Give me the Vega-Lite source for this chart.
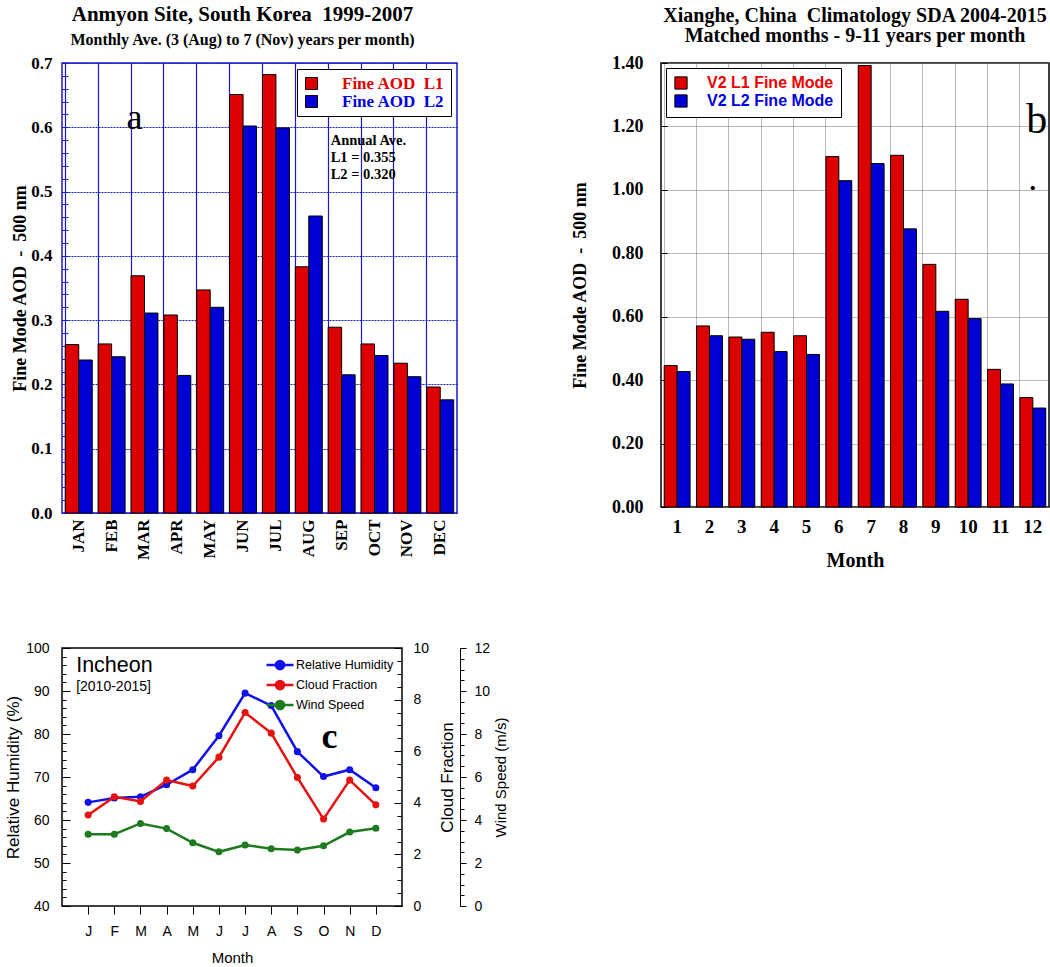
{
  "$schema": "https://vega.github.io/schema/vega-lite/v6.json",
  "background": "white",
  "padding": {"left": 3, "top": 3, "right": 3, "bottom": 3},
  "datasets": {
    "aod_a": [
      {"month": "JAN", "level": "Fine AOD\u00a0\u00a0L1", "aod": 0.262}, {"month": "JAN", "level": "Fine AOD\u00a0\u00a0L2", "aod": 0.238},
      {"month": "FEB", "level": "Fine AOD\u00a0\u00a0L1", "aod": 0.263}, {"month": "FEB", "level": "Fine AOD\u00a0\u00a0L2", "aod": 0.243},
      {"month": "MAR", "level": "Fine AOD\u00a0\u00a0L1", "aod": 0.369}, {"month": "MAR", "level": "Fine AOD\u00a0\u00a0L2", "aod": 0.311},
      {"month": "APR", "level": "Fine AOD\u00a0\u00a0L1", "aod": 0.308}, {"month": "APR", "level": "Fine AOD\u00a0\u00a0L2", "aod": 0.214},
      {"month": "MAY", "level": "Fine AOD\u00a0\u00a0L1", "aod": 0.347}, {"month": "MAY", "level": "Fine AOD\u00a0\u00a0L2", "aod": 0.320},
      {"month": "JUN", "level": "Fine AOD\u00a0\u00a0L1", "aod": 0.651}, {"month": "JUN", "level": "Fine AOD\u00a0\u00a0L2", "aod": 0.602},
      {"month": "JUL", "level": "Fine AOD\u00a0\u00a0L1", "aod": 0.682}, {"month": "JUL", "level": "Fine AOD\u00a0\u00a0L2", "aod": 0.599},
      {"month": "AUG", "level": "Fine AOD\u00a0\u00a0L1", "aod": 0.383}, {"month": "AUG", "level": "Fine AOD\u00a0\u00a0L2", "aod": 0.462},
      {"month": "SEP", "level": "Fine AOD\u00a0\u00a0L1", "aod": 0.289}, {"month": "SEP", "level": "Fine AOD\u00a0\u00a0L2", "aod": 0.215},
      {"month": "OCT", "level": "Fine AOD\u00a0\u00a0L1", "aod": 0.263}, {"month": "OCT", "level": "Fine AOD\u00a0\u00a0L2", "aod": 0.245},
      {"month": "NOV", "level": "Fine AOD\u00a0\u00a0L1", "aod": 0.233}, {"month": "NOV", "level": "Fine AOD\u00a0\u00a0L2", "aod": 0.212},
      {"month": "DEC", "level": "Fine AOD\u00a0\u00a0L1", "aod": 0.196}, {"month": "DEC", "level": "Fine AOD\u00a0\u00a0L2", "aod": 0.176}
    ],
    "aod_b": [
      {"month": "1", "mode": "V2 L1 Fine Mode", "aod": 0.446}, {"month": "1", "mode": "V2 L2 Fine Mode", "aod": 0.427},
      {"month": "2", "mode": "V2 L1 Fine Mode", "aod": 0.571}, {"month": "2", "mode": "V2 L2 Fine Mode", "aod": 0.540},
      {"month": "3", "mode": "V2 L1 Fine Mode", "aod": 0.536}, {"month": "3", "mode": "V2 L2 Fine Mode", "aod": 0.529},
      {"month": "4", "mode": "V2 L1 Fine Mode", "aod": 0.551}, {"month": "4", "mode": "V2 L2 Fine Mode", "aod": 0.490},
      {"month": "5", "mode": "V2 L1 Fine Mode", "aod": 0.540}, {"month": "5", "mode": "V2 L2 Fine Mode", "aod": 0.481},
      {"month": "6", "mode": "V2 L1 Fine Mode", "aod": 1.105}, {"month": "6", "mode": "V2 L2 Fine Mode", "aod": 1.029},
      {"month": "7", "mode": "V2 L1 Fine Mode", "aod": 1.392}, {"month": "7", "mode": "V2 L2 Fine Mode", "aod": 1.083},
      {"month": "8", "mode": "V2 L1 Fine Mode", "aod": 1.109}, {"month": "8", "mode": "V2 L2 Fine Mode", "aod": 0.877},
      {"month": "9", "mode": "V2 L1 Fine Mode", "aod": 0.765}, {"month": "9", "mode": "V2 L2 Fine Mode", "aod": 0.617},
      {"month": "10", "mode": "V2 L1 Fine Mode", "aod": 0.655}, {"month": "10", "mode": "V2 L2 Fine Mode", "aod": 0.594},
      {"month": "11", "mode": "V2 L1 Fine Mode", "aod": 0.434}, {"month": "11", "mode": "V2 L2 Fine Mode", "aod": 0.388},
      {"month": "12", "mode": "V2 L1 Fine Mode", "aod": 0.345}, {"month": "12", "mode": "V2 L2 Fine Mode", "aod": 0.312}
    ],
    "met": [
      {"month": 1, "series": "Relative Humidity", "value": 64.1}, {"month": 2, "series": "Relative Humidity", "value": 65.1},
      {"month": 3, "series": "Relative Humidity", "value": 65.4}, {"month": 4, "series": "Relative Humidity", "value": 68.2},
      {"month": 5, "series": "Relative Humidity", "value": 71.7}, {"month": 6, "series": "Relative Humidity", "value": 79.6},
      {"month": 7, "series": "Relative Humidity", "value": 89.5}, {"month": 8, "series": "Relative Humidity", "value": 86.6},
      {"month": 9, "series": "Relative Humidity", "value": 75.9}, {"month": 10, "series": "Relative Humidity", "value": 70.1},
      {"month": 11, "series": "Relative Humidity", "value": 71.7}, {"month": 12, "series": "Relative Humidity", "value": 67.5},
      {"month": 1, "series": "Cloud Fraction", "value": 3.53}, {"month": 2, "series": "Cloud Fraction", "value": 4.23},
      {"month": 3, "series": "Cloud Fraction", "value": 4.05}, {"month": 4, "series": "Cloud Fraction", "value": 4.88},
      {"month": 5, "series": "Cloud Fraction", "value": 4.65}, {"month": 6, "series": "Cloud Fraction", "value": 5.77},
      {"month": 7, "series": "Cloud Fraction", "value": 7.5}, {"month": 8, "series": "Cloud Fraction", "value": 6.7},
      {"month": 9, "series": "Cloud Fraction", "value": 4.98}, {"month": 10, "series": "Cloud Fraction", "value": 3.37},
      {"month": 11, "series": "Cloud Fraction", "value": 4.88}, {"month": 12, "series": "Cloud Fraction", "value": 3.92},
      {"month": 1, "series": "Wind Speed", "value": 3.34}, {"month": 2, "series": "Wind Speed", "value": 3.34},
      {"month": 3, "series": "Wind Speed", "value": 3.84}, {"month": 4, "series": "Wind Speed", "value": 3.6},
      {"month": 5, "series": "Wind Speed", "value": 2.94}, {"month": 6, "series": "Wind Speed", "value": 2.52},
      {"month": 7, "series": "Wind Speed", "value": 2.84}, {"month": 8, "series": "Wind Speed", "value": 2.66},
      {"month": 9, "series": "Wind Speed", "value": 2.6}, {"month": 10, "series": "Wind Speed", "value": 2.8},
      {"month": 11, "series": "Wind Speed", "value": 3.44}, {"month": 12, "series": "Wind Speed", "value": 3.62}
    ]
  },
  "spacing": 69,
  "resolve": {"scale": {"color": "independent"}, "legend": {"color": "independent"}},
  "vconcat": [
    {
      "spacing": 112,
      "resolve": {"scale": {"color": "independent"}, "legend": {"color": "independent"}},
      "hconcat": [
        {
          "width": 395,
          "height": 450,
          "view": {"stroke": "#1a1acc", "strokeWidth": 1.5},
          "title": {
            "text": "Anmyon Site, South Korea\u00a0\u00a01999-2007",
            "subtitle": "Monthly Ave. (3 (Aug) to 7 (Nov) years per month)",
            "font": "Liberation Serif", "fontSize": 21, "fontWeight": "bold", "color": "black",
            "subtitleFont": "Liberation Serif", "subtitleFontSize": 16, "subtitleFontWeight": "bold", "subtitleColor": "black",
            "subtitlePadding": 7, "offset": 6, "anchor": "middle", "dx": -17
          },
          "layer": [
            {
              "data": {"name": "aod_a"},
              "transform": [{"filter": "indexof(datum.level, 'L1') >= 0"}],
              "mark": {"type": "bar", "stroke": "black", "strokeWidth": 1, "width": {"band": 0.5}, "xOffset": -6.74},
              "encoding": {
                "x": {
                  "field": "month", "type": "nominal",
                  "sort": ["JAN", "FEB", "MAR", "APR", "MAY", "JUN", "JUL", "AUG", "SEP", "OCT", "NOV", "DEC"],
                  "scale": {"paddingInner": 0.18, "paddingOuter": 0.1},
                  "axis": {
                    "title": null, "labelAngle": -90, "labelFont": "Liberation Serif", "labelFontSize": 17,
                    "labelFontWeight": "bold", "labelColor": "black", "labelPadding": 6,
                    "grid": true, "bandPosition": 0, "gridColor": "#1a1acc", "gridWidth": 1.2,
                    "ticks": false, "domain": false
                  }
                },
                "y": {
                  "field": "aod", "type": "quantitative",
                  "scale": {"domain": [0, 0.7], "nice": false},
                  "axis": {
                    "title": "Fine Mode AOD\u00a0\u00a0-\u00a0\u00a0500 nm",
                    "titleFont": "Liberation Serif", "titleFontSize": 18, "titleFontWeight": "bold", "titleColor": "black", "titlePadding": 1,
                    "values": [0, 0.02, 0.04, 0.06, 0.08, 0.1, 0.12, 0.14, 0.16, 0.18, 0.2, 0.22, 0.24, 0.26, 0.28, 0.3, 0.32, 0.34, 0.36, 0.38, 0.4, 0.42, 0.44, 0.46, 0.48, 0.5, 0.52, 0.54, 0.56, 0.58, 0.6, 0.62, 0.64, 0.66, 0.68, 0.7],
                    "tickCount": 200,
                    "labelExpr": "abs(datum.value*10 - round(datum.value*10)) < 0.001 ? format(datum.value, '.1f') : ''",
                    "labelFont": "Liberation Serif", "labelFontSize": 17, "labelFontWeight": "bold", "labelColor": "black",
                    "labelOverlap": false, "labelFlush": false, "labelPadding": 16,
                    "tickColor": "#1a1acc", "tickSize": -6, "domain": false,
                    "grid": true, "gridColor": "#1a1acc", "gridDash": [2, 1], "gridWidth": 1.2,
                    "gridOpacity": {"condition": {"test": "abs(datum.value*10 - round(datum.value*10)) < 0.001", "value": 1}, "value": 0}
                  }
                },
                "color": {
                  "field": "level", "type": "nominal",
                  "scale": {"domain": ["Fine AOD\u00a0\u00a0L1", "Fine AOD\u00a0\u00a0L2"], "range": ["#dd0000", "#0000d6"]},
                  "legend": {
                    "title": null, "orient": "top-right", "offset": 6, "padding": 6,
                    "fillColor": "white", "strokeColor": "black",
                    "symbolType": "square", "symbolSize": 144, "symbolStrokeColor": "black", "symbolStrokeWidth": 1,
                    "labelFont": "Liberation Serif", "labelFontSize": 17, "labelFontWeight": "bold", "labelOffset": 22,
                    "rowPadding": 0, "labelLimit": 300,
                    "encode": {"labels": {"update": {"fill": {"signal": "indexof(datum.label, 'L1') >= 0 ? '#e00000' : '#0000e0'"}}}}
                  }
                }
              }
            },
            {
              "data": {"name": "aod_a"},
              "transform": [{"filter": "indexof(datum.level, 'L2') >= 0"}],
              "mark": {"type": "bar", "stroke": "black", "strokeWidth": 1, "width": {"band": 0.5}, "xOffset": 6.74},
              "encoding": {
                "x": {"field": "month", "type": "nominal", "sort": ["JAN", "FEB", "MAR", "APR", "MAY", "JUN", "JUL", "AUG", "SEP", "OCT", "NOV", "DEC"]},
                "y": {"field": "aod", "type": "quantitative"},
                "color": {"field": "level", "type": "nominal"}
              }
            },
            {
              "data": {"values": [{}]},
              "mark": {"type": "text", "font": "Liberation Serif", "fontSize": 36, "baseline": "alphabetic", "align": "center", "dx": -10, "color": "black"},
              "encoding": {
                "x": {"datum": "MAR"},
                "y": {"datum": 0.598, "type": "quantitative"},
                "text": {"value": "a"}
              }
            },
            {
              "data": {"values": [{}]},
              "mark": {"type": "text", "font": "Liberation Serif", "fontSize": 14.5, "fontWeight": "bold", "baseline": "alphabetic", "align": "left", "dx": -11, "lineHeight": 17, "color": "black"},
              "encoding": {
                "x": {"datum": "SEP"},
                "y": {"datum": 0.573, "type": "quantitative"},
                "text": {"value": ["Annual Ave.", "L1 = 0.355", "L2 = 0.320"]}
              }
            }
          ]
        },
        {
          "width": 388,
          "height": 444,
          "view": {"stroke": "black", "strokeWidth": 1.5},
          "title": {
            "text": "Xianghe, China\u00a0\u00a0Climatology SDA 2004-2015",
            "subtitle": "Matched months - 9-11 years per month",
            "font": "Liberation Serif", "fontSize": 20, "fontWeight": "bold", "color": "black",
            "subtitleFont": "Liberation Serif", "subtitleFontSize": 20, "subtitleFontWeight": "bold", "subtitleColor": "black",
            "subtitlePadding": 0, "offset": 8, "anchor": "middle"
          },
          "layer": [
            {
              "data": {"name": "aod_b"},
              "transform": [{"filter": "indexof(datum.mode, 'L1') >= 0"}],
              "mark": {"type": "bar", "stroke": "black", "strokeWidth": 1, "width": {"band": 0.5}, "xOffset": -6.47},
              "encoding": {
                "x": {
                  "field": "month", "type": "nominal",
                  "sort": ["1", "2", "3", "4", "5", "6", "7", "8", "9", "10", "11", "12"],
                  "scale": {"paddingInner": 0.2, "paddingOuter": 0.1},
                  "axis": {
                    "title": "Month", "titleFont": "Liberation Serif", "titleFontSize": 20, "titleFontWeight": "bold", "titleColor": "black", "titlePadding": 14,
                    "labelAngle": 0, "labelFont": "Liberation Serif", "labelFontSize": 19, "labelFontWeight": "bold", "labelColor": "black", "labelPadding": 10,
                    "grid": true, "bandPosition": 0, "gridColor": "#777777", "gridDash": [1, 1], "gridWidth": 1,
                    "ticks": false, "domain": false
                  }
                },
                "y": {
                  "field": "aod", "type": "quantitative",
                  "scale": {"domain": [0, 1.4], "nice": false},
                  "axis": {
                    "title": "Fine Mode AOD\u00a0\u00a0-\u00a0\u00a0500 nm",
                    "titleFont": "Liberation Serif", "titleFontSize": 18, "titleFontWeight": "bold", "titleColor": "black", "titlePadding": 22,
                    "values": [0, 0.2, 0.4, 0.6, 0.8, 1.0, 1.2, 1.4], "tickCount": 200, "format": ".2f",
                    "labelFont": "Liberation Serif", "labelFontSize": 18, "labelFontWeight": "bold", "labelColor": "black",
                    "labelFlush": false, "labelPadding": 24,
                    "tickColor": "black", "tickSize": -6, "domain": false,
                    "grid": true, "gridColor": "#777777", "gridDash": [1, 1], "gridWidth": 1
                  }
                },
                "color": {
                  "field": "mode", "type": "nominal",
                  "scale": {"domain": ["V2 L1 Fine Mode", "V2 L2 Fine Mode"], "range": ["#dd0000", "#0000d6"]},
                  "legend": {
                    "title": null, "orient": "top-left", "offset": 5, "padding": 7,
                    "fillColor": "white", "strokeColor": "black",
                    "symbolType": "square", "symbolSize": 150, "symbolStrokeColor": "black", "symbolStrokeWidth": 1,
                    "labelFont": "Liberation Sans", "labelFontSize": 16, "labelFontWeight": "bold", "labelOffset": 18,
                    "rowPadding": 0, "labelLimit": 300,
                    "encode": {"labels": {"update": {"fill": {"signal": "indexof(datum.label, 'L1') >= 0 ? '#ee0000' : '#0000e0'"}}}}
                  }
                }
              }
            },
            {
              "data": {"name": "aod_b"},
              "transform": [{"filter": "indexof(datum.mode, 'L2') >= 0"}],
              "mark": {"type": "bar", "stroke": "black", "strokeWidth": 1, "width": {"band": 0.5}, "xOffset": 6.47},
              "encoding": {
                "x": {"field": "month", "type": "nominal", "sort": ["1", "2", "3", "4", "5", "6", "7", "8", "9", "10", "11", "12"]},
                "y": {"field": "aod", "type": "quantitative"},
                "color": {"field": "mode", "type": "nominal"}
              }
            },
            {
              "data": {"values": [{}]},
              "mark": {"type": "text", "font": "Liberation Serif", "fontSize": 42, "baseline": "alphabetic", "align": "center", "dx": 4, "color": "black"},
              "encoding": {
                "x": {"datum": "12"},
                "y": {"datum": 1.18, "type": "quantitative"},
                "text": {"value": "b"}
              }
            },
            {
              "data": {"values": [{}]},
              "mark": {"type": "text", "font": "Liberation Serif", "fontSize": 26, "fontWeight": "bold", "baseline": "alphabetic", "align": "center", "color": "black"},
              "encoding": {
                "x": {"datum": "12"},
                "y": {"datum": 1.0, "type": "quantitative"},
                "text": {"value": "."}
              }
            }
          ]
        }
      ]
    },
    {
      "width": 340,
      "height": 258,
      "view": {"stroke": "black", "strokeWidth": 1.5},
      "encoding": {
        "x": {
          "field": "month", "type": "ordinal",
          "scale": {"type": "point", "padding": 1.06},
          "axis": {
            "title": "Month", "titleFont": "Liberation Sans", "titleFontSize": 15, "titleFontWeight": "normal", "titleColor": "black", "titlePadding": 12,
            "labelExpr": "['J','F','M','A','M','J','J','A','S','O','N','D'][datum.value - 1]",
            "labelAngle": 0, "labelFont": "Liberation Sans", "labelFontSize": 14, "labelColor": "black", "labelPadding": 10,
            "tickSize": 8, "tickColor": "black", "domain": false, "grid": false
          }
        }
      },
      "layer": [
        {
          "layer": [
            {
              "data": {"name": "met"},
              "transform": [{"filter": "datum.series === 'Relative Humidity'"}],
              "mark": {"type": "line", "strokeWidth": 2.5, "point": {"filled": true, "size": 50}},
              "encoding": {
                "y": {
                  "field": "value", "type": "quantitative",
                  "scale": {"domain": [40, 100], "nice": false},
                  "axis": {
                    "title": "Relative Humidity (%)", "titleFont": "Liberation Sans", "titleFontSize": 17, "titleFontWeight": "normal", "titleColor": "black", "titlePadding": 3,
                    "values": [40, 42, 44, 46, 48, 50, 52, 54, 56, 58, 60, 62, 64, 66, 68, 70, 72, 74, 76, 78, 80, 82, 84, 86, 88, 90, 92, 94, 96, 98, 100],
                    "tickCount": 200,
                    "labelExpr": "datum.value % 10 === 0 ? datum.value : ''",
                    "labelFont": "Liberation Sans", "labelFontSize": 14, "labelColor": "black", "labelOverlap": false, "labelFlush": false, "labelPadding": 21,
                    "tickColor": "black", "tickSize": {"condition": {"test": "datum.value % 10 === 0", "value": -8}, "value": -4},
                    "domain": false, "grid": false
                  }
                },
                "color": {
                  "field": "series", "type": "nominal",
                  "scale": {"domain": ["Relative Humidity", "Cloud Fraction", "Wind Speed"], "range": ["#1212e6", "#e61212", "#1e7a1e"]},
                  "legend": {
                    "title": null, "orient": "top-right", "offset": 6, "padding": 2,
                    "symbolType": "M-1.8,0L1.8,0M0.55,0A0.55,0.55,0,1,1,-0.55,0A0.55,0.55,0,1,1,0.55,0",
                    "symbolSize": 225, "symbolStrokeWidth": 2.5,
                    "labelFont": "Liberation Sans", "labelFontSize": 12.5, "labelColor": "black", "labelOffset": 7,
                    "rowPadding": 0, "labelLimit": 300,
                    "encode": {"symbols": {"update": {
                      "fill": {"signal": "datum.value === 'Relative Humidity' ? '#1212e6' : datum.value === 'Cloud Fraction' ? '#e61212' : '#1e7a1e'"},
                      "stroke": {"signal": "datum.value === 'Relative Humidity' ? '#1212e6' : datum.value === 'Cloud Fraction' ? '#e61212' : '#1e7a1e'"},
                      "opacity": {"value": 1}
                    }}}
                  }
                }
              }
            },
            {
              "data": {"values": [{}]},
              "mark": {"type": "text", "font": "Liberation Sans", "fontSize": 21.5, "baseline": "alphabetic", "align": "left", "dx": -12, "color": "black"},
              "encoding": {
                "x": {"datum": 1},
                "y": {"datum": 94.4, "type": "quantitative"},
                "text": {"value": "Incheon"}
              }
            },
            {
              "data": {"values": [{}]},
              "mark": {"type": "text", "font": "Liberation Sans", "fontSize": 14, "baseline": "alphabetic", "align": "left", "dx": -12, "color": "black"},
              "encoding": {
                "x": {"datum": 1},
                "y": {"datum": 89.9, "type": "quantitative"},
                "text": {"value": "[2010-2015]"}
              }
            },
            {
              "data": {"values": [{}]},
              "mark": {"type": "text", "font": "Liberation Serif", "fontSize": 36, "fontWeight": "bold", "baseline": "alphabetic", "align": "center", "dx": 6, "color": "black"},
              "encoding": {
                "x": {"datum": 10},
                "y": {"datum": 76.7, "type": "quantitative"},
                "text": {"value": "c"}
              }
            }
          ]
        },
        {
          "data": {"name": "met"},
          "transform": [{"filter": "datum.series === 'Cloud Fraction'"}],
          "mark": {"type": "line", "strokeWidth": 2.5, "point": {"filled": true, "size": 50}},
          "encoding": {
            "y": {
              "field": "value", "type": "quantitative",
              "scale": {"domain": [0, 10], "nice": false},
              "axis": {
                "orient": "right",
                "title": "Cloud Fraction", "titleFont": "Liberation Sans", "titleFontSize": 17, "titleFontWeight": "normal", "titleColor": "black", "titleAngle": 270, "titlePadding": 28,
                "values": [0, 0.5, 1, 1.5, 2, 2.5, 3, 3.5, 4, 4.5, 5, 5.5, 6, 6.5, 7, 7.5, 8, 8.5, 9, 9.5, 10],
                "tickCount": 200,
                "labelExpr": "datum.value % 2 === 0 ? datum.value : ''",
                "labelFont": "Liberation Sans", "labelFontSize": 14, "labelColor": "black", "labelOverlap": false, "labelFlush": false, "labelPadding": 19,
                "tickColor": "black", "tickSize": {"condition": {"test": "datum.value % 2 === 0", "value": -8}, "value": -5},
                "domain": false, "grid": false
              }
            },
            "color": {"field": "series", "type": "nominal"}
          }
        },
        {
          "data": {"name": "met"},
          "transform": [{"filter": "datum.series === 'Wind Speed'"}],
          "mark": {"type": "line", "strokeWidth": 2.5, "point": {"filled": true, "size": 50}},
          "encoding": {
            "y": {
              "field": "value", "type": "quantitative",
              "scale": {"domain": [0, 12], "nice": false},
              "axis": {
                "orient": "right", "offset": 58,
                "title": "Wind Speed (m/s)", "titleFont": "Liberation Sans", "titleFontSize": 15, "titleFontWeight": "normal", "titleColor": "black", "titleAngle": 270, "titlePadding": 19,
                "values": [0, 0.5, 1, 1.5, 2, 2.5, 3, 3.5, 4, 4.5, 5, 5.5, 6, 6.5, 7, 7.5, 8, 8.5, 9, 9.5, 10, 10.5, 11, 11.5, 12],
                "tickCount": 200,
                "labelExpr": "datum.value % 2 === 0 ? datum.value : ''",
                "labelFont": "Liberation Sans", "labelFontSize": 14, "labelColor": "black", "labelOverlap": false, "labelFlush": false, "labelPadding": 8,
                "tickColor": "black", "tickSize": {"condition": {"test": "datum.value % 2 === 0", "value": 6}, "value": 4},
                "domain": true, "domainColor": "black", "grid": false
              }
            },
            "color": {"field": "series", "type": "nominal"}
          }
        }
      ],
      "resolve": {"scale": {"y": "independent"}}
    }
  ]
}
